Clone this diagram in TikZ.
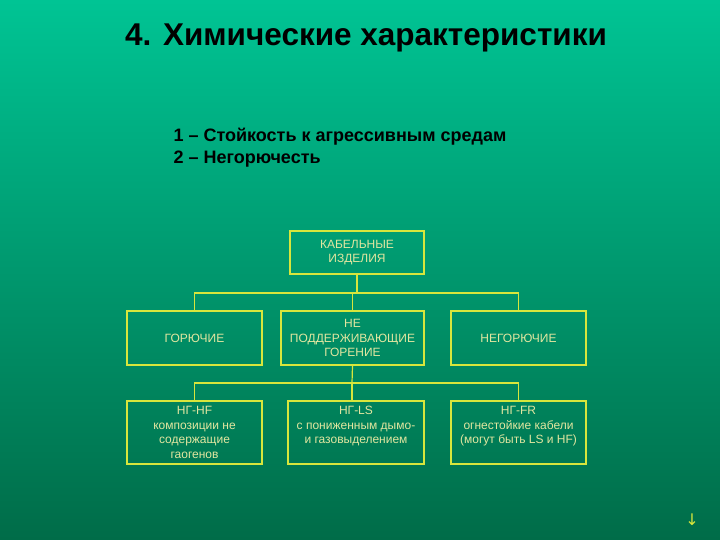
\documentclass[tikz,border=0pt]{standalone}
\usepackage{fontspec}
\setmainfont{Liberation Sans}
\newfontfamily\djv{DejaVu Sans}
\definecolor{bgtop}{RGB}{0,196,148}
\definecolor{bgbot}{RGB}{0,108,72}
\definecolor{ybord}{RGB}{215,230,60}
\definecolor{ytext}{RGB}{225,230,160}
\begin{document}
\begin{tikzpicture}[x=1pt,y=-1pt,
  box/.style={draw=ybord,line width=1.2pt,rectangle,align=center,text=ytext,font=\fontsize{12}{14.5}\selectfont,inner sep=0pt},
  conn/.style={draw=ybord,line width=1.2pt}]
\shade[top color=bgtop,bottom color=bgbot] (0,0) rectangle (720,540);
\useasboundingbox (0,0) rectangle (720,540);
\node[font=\bfseries\fontsize{31.5}{36}\selectfont] (title) at (366,38) {4. Химические характеристики};
\node[anchor=west,align=left,font=\bfseries\fontsize{18}{22}\selectfont] (sub) at (170,148) {1 – Стойкость к агрессивным средам\\2 – Негорючесть};
\node[box,minimum width=134,minimum height=43] (top) at (357,252.5) {КАБЕЛЬНЫЕ\\ИЗДЕЛИЯ};
\node[box,minimum width=135,minimum height=54] (a1) at (194.5,338) {ГОРЮЧИЕ};
\node[box,minimum width=143,minimum height=54] (a2) at (352.5,338) {НЕ\\ПОДДЕРЖИВАЮЩИЕ\\ГОРЕНИЕ};
\node[box,minimum width=135,minimum height=54] (a3) at (518.5,338) {НЕГОРЮЧИЕ};
\node[box,minimum width=135,minimum height=63] (b1) at (194.5,432.5) {НГ-HF\\композиции не\\содержащие\\гаогенов};
\node[box,minimum width=136,minimum height=63] (b2) at (356,432.5) {НГ-LS\\с пониженным дымо-\\и газовыделением\\\phantom{x}};
\node[box,minimum width=135,minimum height=63] (b3) at (518.5,432.5) {НГ-FR\\огнестойкие кабели\\(могут быть LS и HF)\\\phantom{x}};
\coordinate (j1) at (357,293);
\coordinate (j2) at (352,383);
\draw[conn] (top.south) -- (j1);
\draw[conn] (a1.north) |- (j1) -| (a3.north);
\draw[conn] (j1 -| a2.north) -- (a2.north);
\draw[conn] (a2.south) -- (j2);
\draw[conn] (b1.north) |- (j2) -| (b3.north);
\draw[conn] (j2) -- (b2.north -| j2);
\node[text=ybord,font=\djv\fontsize{16}{18}\selectfont] (arr) at (692,520) {↓};
\end{tikzpicture}
\end{document}
